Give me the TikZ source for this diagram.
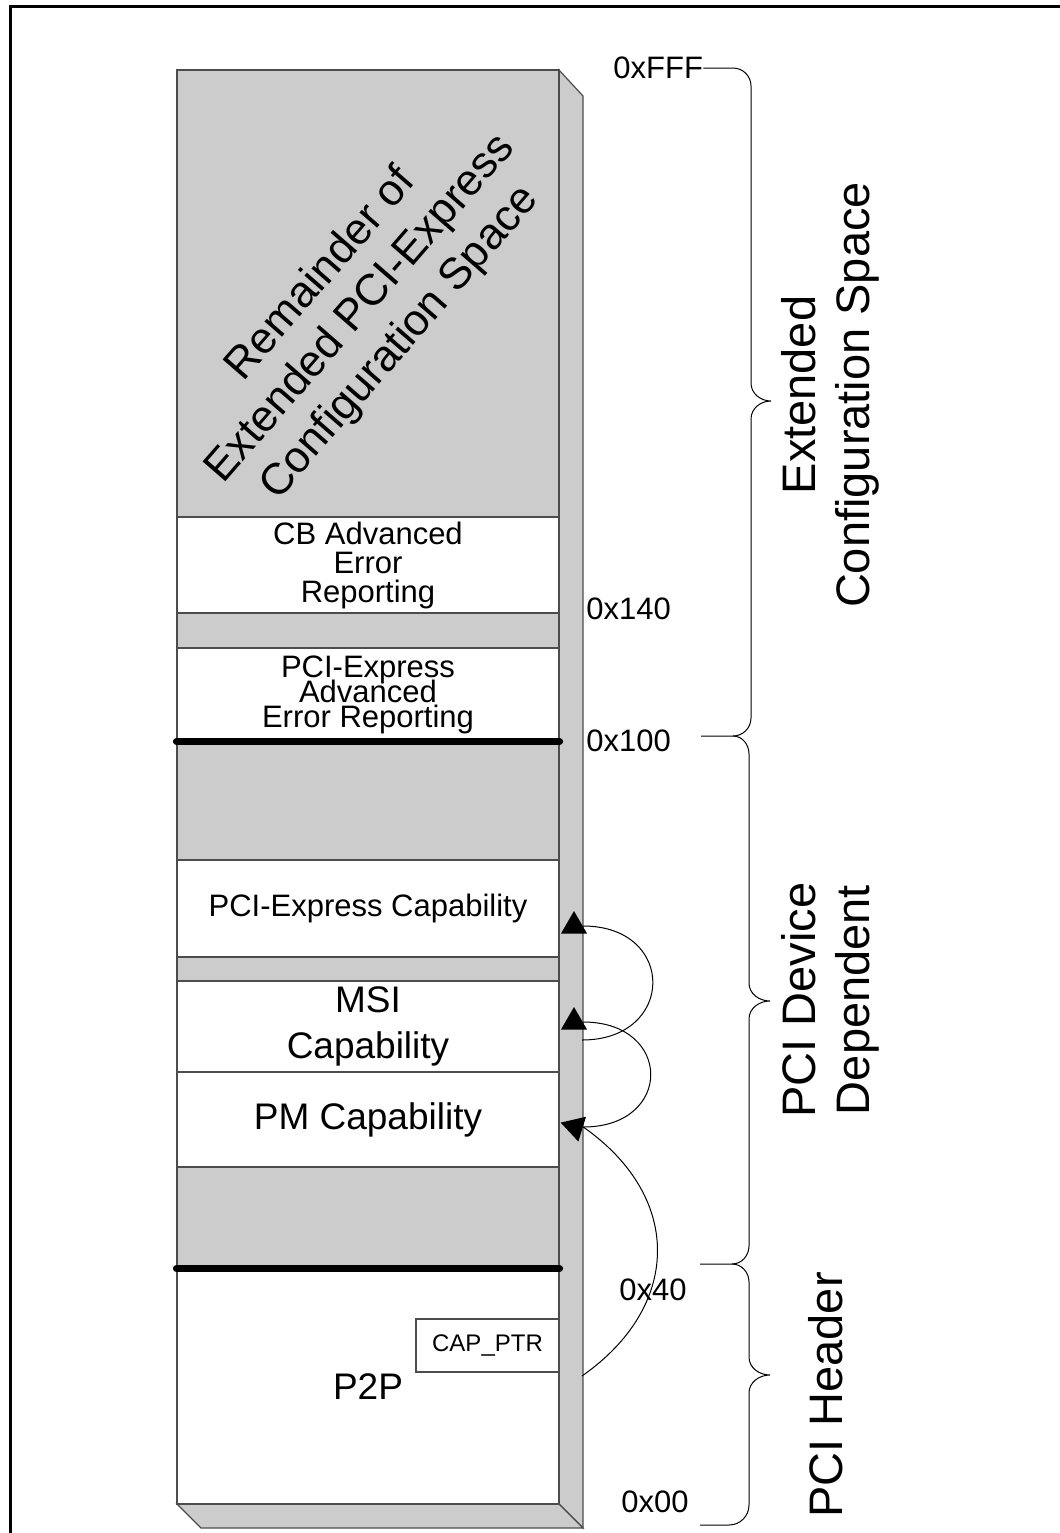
\documentclass[tikz,border=0pt]{standalone}
\usepackage{fontspec}
\setmainfont{Liberation Sans}
\usetikzlibrary{positioning,shapes.geometric}
\definecolor{facegray}{gray}{0.8}
\definecolor{edgegray}{gray}{0.3}

\begin{document}
\begin{tikzpicture}[x=0.5pt,y=0.5pt,
  regbox/.style={draw=edgegray, fill=white, line width=0.6pt, minimum width=191pt, inner sep=0pt, align=center},
  boxtxt/.style={font=\fontsize{15.5}{14.5}\selectfont},
  tighttxt/.style={font={\fontsize{15.5}{12.5}\selectfont\lineskiplimit=-20pt\relax}},
  captxt/.style={font=\fontsize{18.5}{23}\selectfont},
  addr/.style={font=\fontsize{15.5}{16}\selectfont, inner sep=0pt, anchor=west},
  bigtxt/.style={font=\fontsize{23.5}{27}\selectfont, inner sep=0pt, align=center},
  ptrtip/.style={regular polygon, regular polygon sides=3, fill=black, inner sep=0pt, minimum size=15pt},
  ptrline/.style={line width=0.5pt},
  bracel/.style={line width=0.5pt}]
\useasboundingbox (0,0) rectangle (1060,-1533);
% outer frame
\draw[line width=1.5pt] (10,-1560) -- (10,-6) -- (1080,-6);
% the block and its 3d faces
\filldraw[fill=facegray, draw=edgegray, line width=0.6pt] (559,-70) -- (583,-96) -- (583,-1528) -- (559,-1504) -- cycle;
\filldraw[fill=facegray, draw=edgegray, line width=0.6pt] (177,-1504) -- (559,-1504) -- (583,-1528) -- (201,-1528) -- cycle;
\filldraw[fill=facegray, draw=edgegray, line width=0.6pt] (177,-70) rectangle (559,-1504);
\node[bigtxt, font=\fontsize{22}{26}\selectfont, rotate=49] (remain) at (361,-309) {Remainder of\\Extended PCI-Express\\Configuration Space};

% capability structures
\node[regbox, boxtxt, minimum height=48pt] (cbaer) at (368,-565) {CB Advanced\\Error\\Reporting};
\node[regbox, tighttxt, minimum height=46.5pt] (pcieaer) at (368,-694.5) {PCI-Express\\Advanced\\Error Reporting};
\node[regbox, boxtxt, minimum height=48.5pt] (pciecap) at (368,-908.5) {PCI-Express Capability};
\node[regbox, captxt, minimum height=45.5pt] (msicap) at (368,-1026.5) {MSI\\Capability};
\node[regbox, captxt, minimum height=47.5pt] (pmcap) at (368,-1119.5) {PM Capability};
\node[regbox, captxt, minimum height=117.5pt] (hdr) at (368,-1386.5) {P2P};
\node[draw=edgegray, fill=white, line width=0.6pt, minimum width=71.5pt, minimum height=26.5pt, inner sep=0pt,
  font=\fontsize{12}{12}\selectfont] (capptr) at (487.5,-1345.5) {CAP\_PTR\hspace{6pt}};
\draw[line width=3.5pt, line cap=round] (pcieaer.south west) -- (pcieaer.south east);
\draw[line width=3.5pt, line cap=round] (hdr.north west) -- (hdr.north east);

% pointer chain
\node[ptrtip] (pcieTip) at (574,-926) {};
\node[ptrtip] (msiTip) at (574,-1022) {};
\node[ptrtip, shape border rotate=-167] (pmTip) at (575,-1127) {};
\coordinate (msiNext) at (582,-1040);
\coordinate (capNext) at (582,-1376);
\draw[ptrline] (msiNext) to[out=0,in=0,looseness=2.1] (pcieTip.east);
\draw[ptrline] (pmTip.east) to[out=0,in=0,looseness=2.2] (msiTip.east);
\draw[ptrline] (capNext) to[out=35,in=-35,looseness=1.25] (pmTip.east);

% offsets
\node[addr] (aFFF) at (613,-68) {0xFFF};
\node[addr] (a140) at (586,-609) {0x140};
\node[addr] (a100) at (586,-741) {0x100};
\node[addr] (a40) at (619,-1290) {0x40};
\node[addr] (a00) at (621,-1502) {0x00};

% braces
\draw[bracel] (aFFF.east) -- (733,-68) to[out=0,in=90] (751,-86) -- (751,-383) to[out=-90,in=180] (771,-401)
  to[out=180,in=90] (751,-419) -- (751,-718) to[out=-90,in=0] (733,-736) -- (701,-736);
\draw[bracel] (733,-736) to[out=0,in=90] (749,-754) -- (749,-983) to[out=-90,in=180] (770,-1001)
  to[out=180,in=90] (749,-1019) -- (749,-1246) to[out=-90,in=0] (732,-1264) -- (700,-1264);
\draw[bracel] (732,-1264) to[out=0,in=90] (749,-1282) -- (749,-1357) to[out=-90,in=180] (770,-1375)
  to[out=180,in=90] (749,-1393) -- (749,-1505) to[out=-90,in=0] (729,-1525) -- (700,-1525);

\node[bigtxt, rotate=90] (extlbl) at (830,-395) {Extended\\Configuration Space};
\node[bigtxt, rotate=90] (devlbl) at (830,-1000) {PCI Device\\Dependent};
\node[bigtxt, rotate=90] (hdrlbl) at (826,-1395) {PCI Header};
\end{tikzpicture}
\end{document}
